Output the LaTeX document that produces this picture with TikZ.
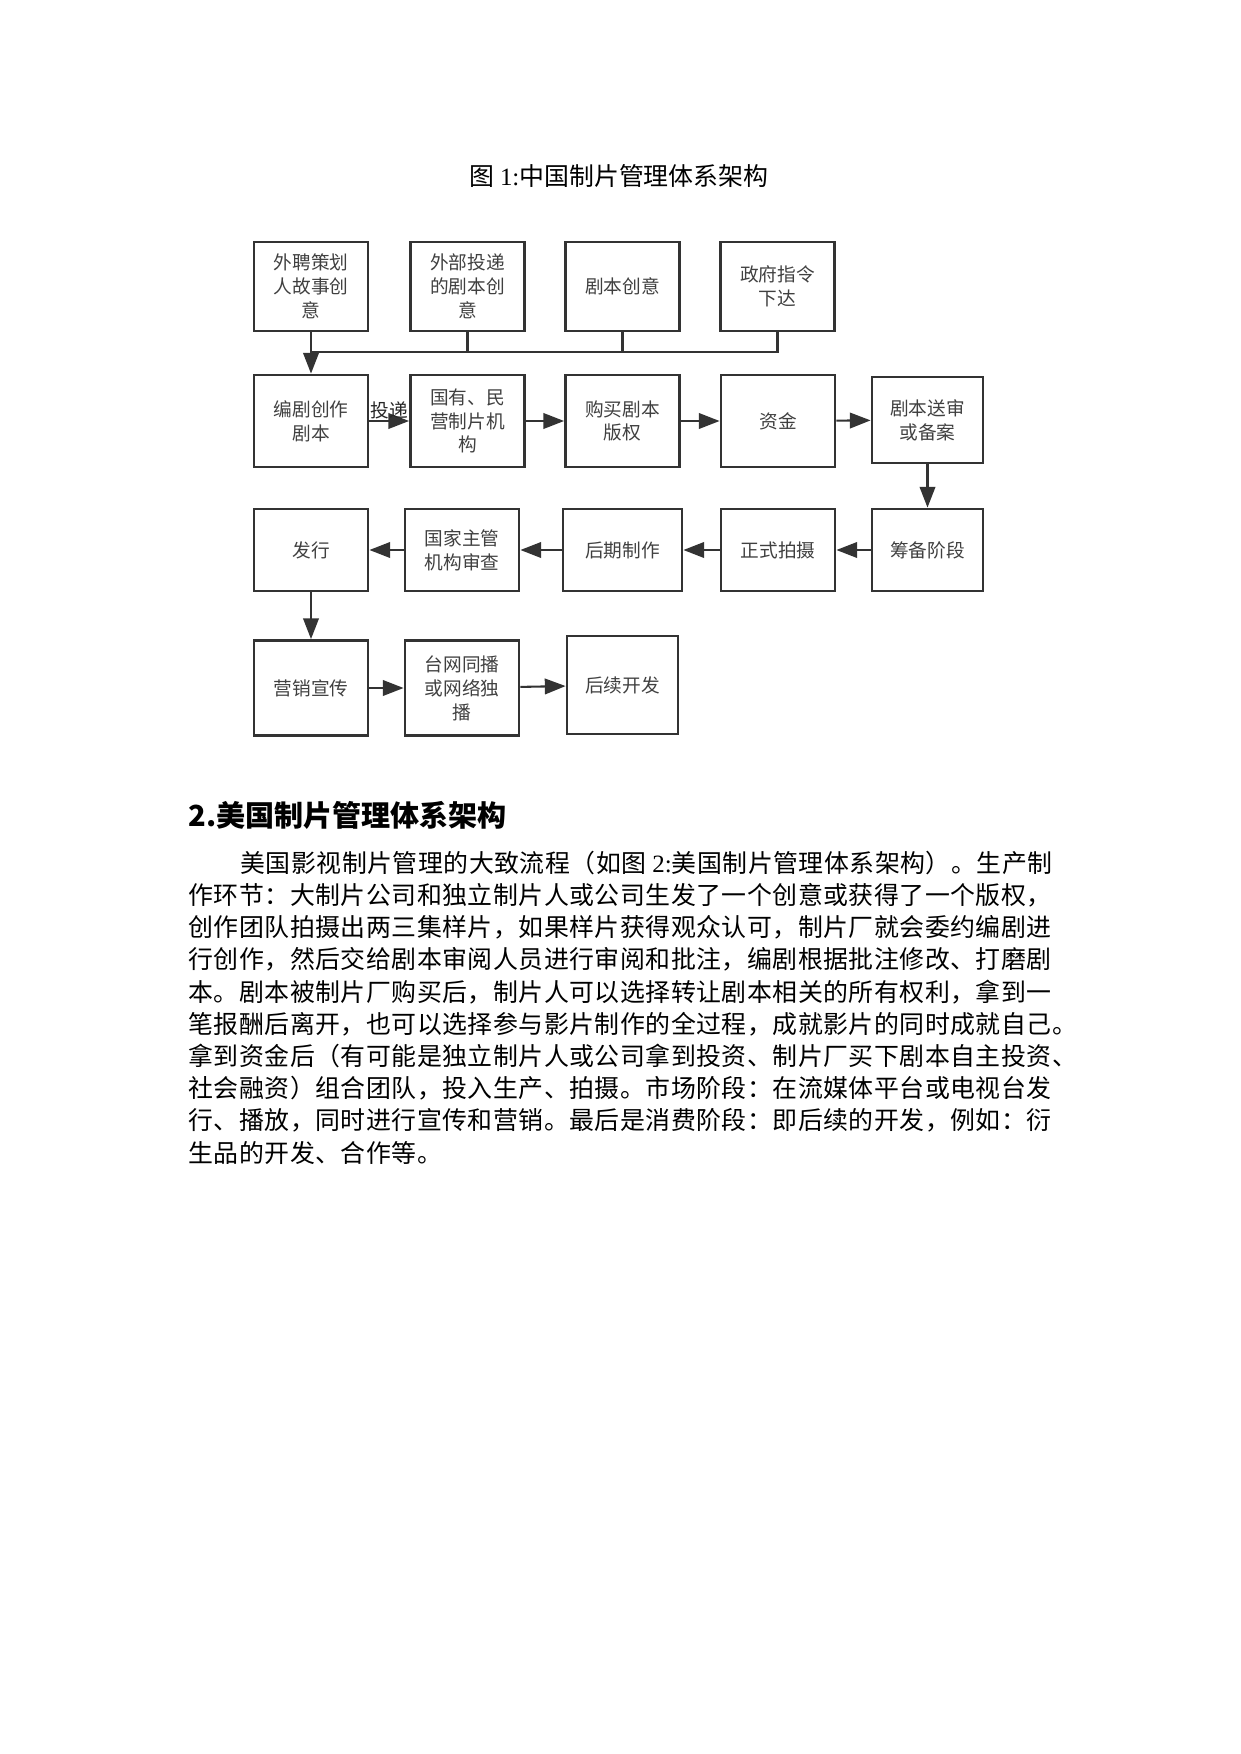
\documentclass[tikz,border=0pt]{standalone}
\usepackage{fontspec}
\usetikzlibrary{arrows.meta}
\newfontfamily\cjk{Noto Sans CJK SC}
\newfontfamily\cjkbody[LetterSpace=2]{Noto Sans CJK SC}
\newfontfamily\lat{Liberation Serif}
\newcommand{\pxw}{0.4818pt}

\begin{document}
\begin{tikzpicture}[x=\pxw, y=-\pxw,
    box/.style={draw=black!80, line width=1.35pt, minimum width=114*\pxw,
        inner sep=1pt, align=center, text=black!75,
        font=\cjk\fontsize{9}{11.5}\selectfont},
    rowa/.style={box, minimum height=89*\pxw},
    rowb/.style={box, minimum height=92*\pxw},
    rowc/.style={box, minimum height=82*\pxw},
    rowd/.style={box, minimum height=95*\pxw},
    link/.style={draw=black!80, line width=1pt},
    arr/.style={link, -{Triangle[length=10pt, width=7.5pt]}},
    bodyline/.style={anchor=west, inner sep=0pt,
        font=\cjkbody\fontsize{12}{15}\selectfont}]
    \useasboundingbox (0,0) rectangle (1240,1754);

    % Caption
    \node[font=\cjk\fontsize{12}{15}\selectfont] (caption) at (619,176)
        {图 {\lat 1:}中国制片管理体系架构};

    % Row 1: sources of ideas
    \node[rowa] (ideaext) at (311,286.5) {外聘策划\\人故事创\\意};
    \node[rowa] (ideasub) at (467.5,286.5) {外部投递\\的剧本创\\意};
    \node[rowa] (ideaown) at (622.5,286.5) {剧本创意};
    \node[rowa] (ideagov) at (777.5,286.5) {政府指令\\下达};

    % Row 2
    \node[rowb] (write) at (311,421) {编剧创作\\剧本};
    \node[rowb] (studio) at (467.5,421) {国有、民\\营制片机\\构};
    \node[rowb] (rights) at (622.5,421) {购买剧本\\版权};
    \node[rowb] (fund) at (778,421) {资金};
    \node[box, minimum width=111*\pxw, minimum height=86*\pxw] (review) at (927.5,420) {剧本送审\\或备案};

    % Row 3 (right to left)
    \node[rowc, minimum width=111*\pxw] (prep) at (927.5,550) {筹备阶段};
    \node[rowc] (shoot) at (778,550) {正式拍摄};
    \node[rowc, minimum width=119*\pxw] (post) at (622.5,550) {后期制作};
    \node[rowc] (check) at (462,550) {国家主管\\机构审查};
    \node[rowc] (release) at (311,550) {发行};

    % Row 4
    \node[rowd] (promo) at (311,688) {营销宣传};
    \node[rowd] (air) at (462,688) {台网同播\\或网络独\\播};
    \node[box, minimum width=111*\pxw, minimum height=98*\pxw] (spinoff) at (622.5,685) {后续开发};

    % Bus from the ideas to the writer
    \coordinate (bus) at (311,352);
    \draw[arr] (ideaext) -- (write);
    \draw[link] (ideasub) -- (ideasub |- bus);
    \draw[link] (ideaown) -- (ideaown |- bus);
    \draw[link] (ideagov) |- (bus);

    % Flow arrows
    \draw[arr] (write) -- node[above, inner sep=0.5pt, text=black!85,
        font=\cjk\fontsize{9}{11}\selectfont] (submit) {投递} (studio);
    \draw[arr] (studio) -- (rights);
    \draw[arr] (rights) -- (fund);
    \draw[arr] (fund) -- (review);
    \draw[arr] (review) -- (prep);
    \draw[arr] (prep) -- (shoot);
    \draw[arr] (shoot) -- (post);
    \draw[arr] (post) -- (check);
    \draw[arr] (check) -- (release);
    \draw[arr] (release) -- (promo);
    \draw[arr] (promo) -- (air);
    \draw[arr] (air) -- (spinoff);

    % Section heading and text
    \node[anchor=west, inner sep=0pt, font=\cjk\bfseries\fontsize{14}{16}\selectfont]
        (heading) at (188,815) {2.美国制片管理体系架构};
    \node[bodyline] (line1) at (240,863)
        {美国影视制片管理的大致流程（如图 {\lat 2:}美国制片管理体系架构）。生产制};
    \node[bodyline] (line2) at (188,895.2)
        {作环节：大制片公司和独立制片人或公司生发了一个创意或获得了一个版权，};
    \node[bodyline] (line3) at (188,927.4)
        {创作团队拍摄出两三集样片，如果样片获得观众认可，制片厂就会委约编剧进};
    \node[bodyline] (line4) at (188,959.6)
        {行创作，然后交给剧本审阅人员进行审阅和批注，编剧根据批注修改、打磨剧};
    \node[bodyline] (line5) at (188,991.8)
        {本。剧本被制片厂购买后，制片人可以选择转让剧本相关的所有权利，拿到一};
    \node[bodyline] (line6) at (188,1024)
        {笔报酬后离开，也可以选择参与影片制作的全过程，成就影片的同时成就自己。};
    \node[bodyline] (line7) at (188,1056.2)
        {拿到资金后（有可能是独立制片人或公司拿到投资、制片厂买下剧本自主投资、};
    \node[bodyline] (line8) at (188,1088.4)
        {社会融资）组合团队，投入生产、拍摄。市场阶段：在流媒体平台或电视台发};
    \node[bodyline] (line9) at (188,1120.6)
        {行、播放，同时进行宣传和营销。最后是消费阶段：即后续的开发，例如：衍};
    \node[bodyline] (line10) at (188,1152.8)
        {生品的开发、合作等。};
\end{tikzpicture}
\end{document}
